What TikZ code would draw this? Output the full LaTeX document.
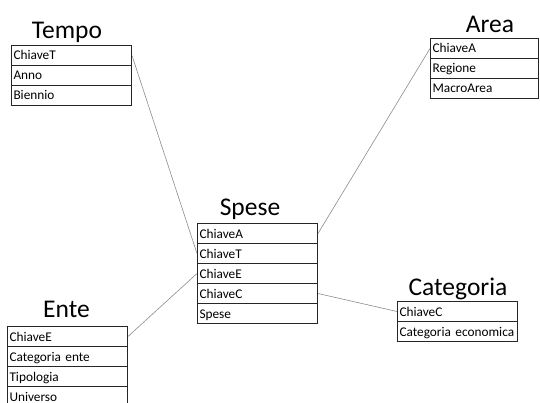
\documentclass[tikz,border=0pt]{standalone}
\usepackage{fontspec}
\setmainfont{Carlito}
\begin{document}
\begin{tikzpicture}[x=1pt,y=-1pt,
  field/.style={draw=black!85, line width=1pt, rectangle, anchor=north west,
    minimum height=20pt, inner xsep=2pt, inner ysep=0pt,
    text height=10.5pt, text depth=1.5pt, align=left,
    font=\fontsize{13.3}{16}\selectfont, text=black},
  title/.style={anchor=base, inner sep=0pt, font=\fontsize{25.5}{30}\selectfont, text=black},
  link/.style={draw=black!45, line width=0.6pt}]
\useasboundingbox (0,0) rectangle (540,403);
\clip (0,0) rectangle (540,403);

% Tempo
\node[title] (tempo) at (67,39) {Tempo};
\node[field, text width=116pt] (t1) at (11,45) {ChiaveT};
\node[field, text width=116pt] (t2) at (11,65) {Anno};
\node[field, text width=116pt] (t3) at (11,85) {Biennio};

% Area
\node[title] (area) at (490,33) {Area};
\node[field, text width=104pt] (a1) at (430,38) {ChiaveA};
\node[field, text width=104pt] (a2) at (430,58) {Regione};
\node[field, text width=104pt] (a3) at (430,78) {MacroArea};

% Spese (fact table)
\node[title] (spese) at (250,216) {Spese};
\node[field, text width=116pt] (s1) at (197,223) {ChiaveA};
\node[field, text width=116pt] (s2) at (197,243) {ChiaveT};
\node[field, text width=116pt] (s3) at (197,263) {ChiaveE};
\node[field, text width=116pt] (s4) at (197,283) {ChiaveC};
\node[field, text width=116pt] (s5) at (197,303) {Spese};

% Ente
\node[title] (ente) at (66.5,317) {Ente};
\node[field, text width=116pt] (e1) at (7,326) {ChiaveE};
\node[field, text width=116pt] (e2) at (7,346) {Categoria ente};
\node[field, text width=116pt] (e3) at (7,366) {Tipologia};
\node[field, text width=116pt] (e4) at (7,386) {Universo};

% Categoria
\node[title] (categoria) at (458,295) {Categoria};
\node[field, text width=116pt] (c1) at (397,301) {ChiaveC};
\node[field, text width=116pt] (c2) at (397,321) {Categoria economica};

% Key links
\draw[link] (t1.east) -- (s2.west);
\draw[link] (s1.east) -- (a1.west);
\draw[link] (e1.east) -- (s3.west);
\draw[link] (s4.east) -- (c1.west);
\end{tikzpicture}
\end{document}
